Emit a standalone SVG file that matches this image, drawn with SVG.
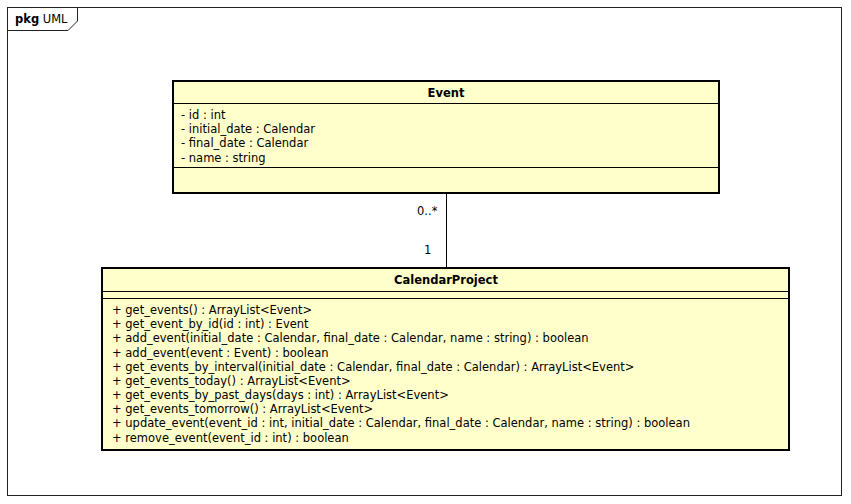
<svg xmlns="http://www.w3.org/2000/svg" width="851" height="504" viewBox="0 0 851 504">
<style>
text{font-family:"DejaVu Sans","Liberation Sans",sans-serif;font-size:11.5px;fill:#000}
.b{font-weight:bold}
.box{fill:#FFFFCC;stroke:#000;stroke-width:2}
.sep{stroke:#000;stroke-width:1}
.frame{fill:none;stroke:#222;stroke-width:1}
</style>
<rect x="0" y="0" width="851" height="504" fill="#fff"/>
<g id="frame">
<rect class="frame" x="7.5" y="7.5" width="834" height="488"/>
<path class="frame" d="M7.5 30.5 H68 L77.5 21 V7.5"/>
<text x="15" y="23"><tspan class="b">pkg</tspan> UML</text>
</g>
<g id="connectors">
<line x1="446.5" y1="193" x2="446.5" y2="268" stroke="#000" stroke-width="1"/>
<text x="417" y="215">0..*</text>
<text x="424" y="254">1</text>
</g>
<g id="Event">
<rect class="box" x="173" y="81" width="546" height="112"/>
<line class="sep" x1="173" y1="103.5" x2="719" y2="103.5"/>
<line class="sep" x1="173" y1="167.5" x2="719" y2="167.5"/>
<text class="b" x="446" y="97" text-anchor="middle">Event</text>
<text x="181" y="119">- id : int</text>
<text x="181" y="133">- initial_date : Calendar</text>
<text x="181" y="147">- final_date : Calendar</text>
<text x="181" y="162">- name : string</text>
</g>
<g id="CalendarProject">
<rect class="box" x="102" y="268" width="687" height="182"/>
<line class="sep" x1="102" y1="291.5" x2="789" y2="291.5"/>
<line class="sep" x1="102" y1="298.5" x2="789" y2="298.5"/>
<text class="b" x="446" y="284" text-anchor="middle">CalendarProject</text>
<text x="112" y="314">+ get_events() : ArrayList&lt;Event&gt;</text>
<text x="112" y="328">+ get_event_by_id(id : int) : Event</text>
<text x="112" y="342">+ add_event(initial_date : Calendar, final_date : Calendar, name : string) : boolean</text>
<text x="112" y="357">+ add_event(event : Event) : boolean</text>
<text x="112" y="371">+ get_events_by_interval(initial_date : Calendar, final_date : Calendar) : ArrayList&lt;Event&gt;</text>
<text x="112" y="385">+ get_events_today() : ArrayList&lt;Event&gt;</text>
<text x="112" y="399">+ get_events_by_past_days(days : int) : ArrayList&lt;Event&gt;</text>
<text x="112" y="413">+ get_events_tomorrow() : ArrayList&lt;Event&gt;</text>
<text x="112" y="427">+ update_event(event_id : int, initial_date : Calendar, final_date : Calendar, name : string) : boolean</text>
<text x="112" y="442">+ remove_event(event_id : int) : boolean</text>
</g>
</svg>
